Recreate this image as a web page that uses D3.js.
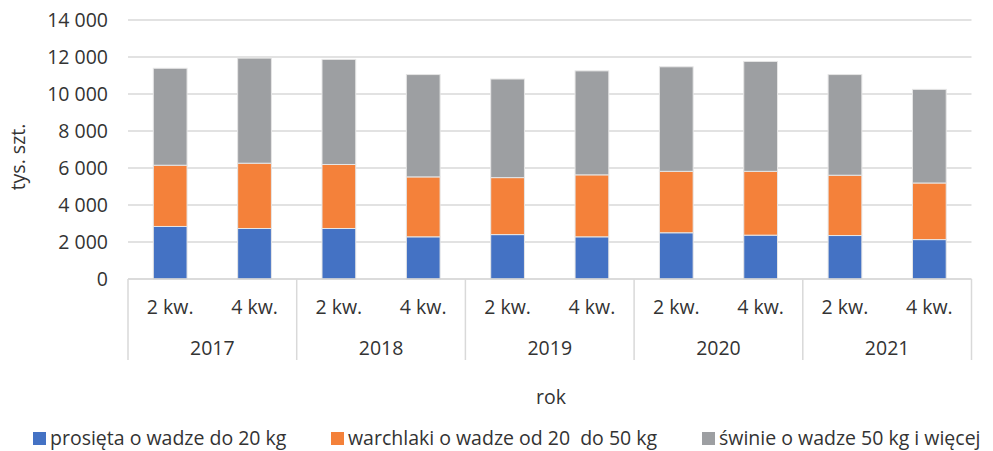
<!DOCTYPE html>
<html>
<head>
<meta charset="utf-8">
<script src="https://cdn.jsdelivr.net/npm/d3@7"></script>
<style>
  body { margin: 0; background: #fff; }
  text { font-family: "Open Sans", sans-serif; fill: #333; }
</style>
</head>
<body>
<svg id="chart" width="993" height="451"></svg>
<script>
// data (tys. szt.)
const years = ['2017', '2018', '2019', '2020', '2021'];
const quarters = ['2 kw.', '4 kw.'];
const prosieta = [2840, 2730, 2730, 2280, 2400, 2280, 2500, 2370, 2350, 2130];
const warchlaki = [3310, 3530, 3460, 3240, 3080, 3350, 3320, 3450, 3260, 3060];
const swinie = [5240, 5680, 5680, 5530, 5330, 5620, 5650, 5940, 5440, 5060];
const seriesNames = ['prosięta o wadze do 20 kg', 'warchlaki o wadze od 20  do 50 kg', 'świnie o wadze 50 kg i więcej'];
const colors = ['#4472c4', '#f4813a', '#9d9fa2'];
const yTicks = [0, 2000, 4000, 6000, 8000, 10000, 12000, 14000];

const rows = [];
years.forEach(function (yr, i) {
    quarters.forEach(function (q, j) {
        const k = i * 2 + j;
        rows.push({ key: yr + '-' + q, year: yr, q: q, s0: prosieta[k], s1: warchlaki[k], s2: swinie[k] });
    });
});

const svg = d3.select('#chart');
const plotLeft = 128, plotRight = 971.5, plotTop = 20, plotBottom = 279;
const fs = '19.5px';

const x = d3.scaleBand()
    .domain(rows.map(d => d.key))
    .range([plotLeft, plotRight])
    .paddingInner(0.6)
    .paddingOuter(0.3);

const y = d3.scaleLinear().domain([0, 14000]).range([plotBottom, plotTop]);

const fmt = function (v) {
    return d3.format(',')(v).replace(/,/g, ' ');
};

// gridlines
svg.append('g')
    .selectAll('line')
    .data(yTicks.slice(1))
    .join('line')
    .attr('x1', plotLeft).attr('x2', plotRight)
    .attr('y1', d => y(d)).attr('y2', d => y(d))
    .attr('stroke', '#d9d9d9')
    .attr('stroke-width', 1.5);

// y tick labels
svg.append('g')
    .selectAll('text')
    .data(yTicks)
    .join('text')
    .attr('x', 108)
    .attr('y', d => y(d))
    .attr('dy', '0.35em')
    .attr('text-anchor', 'end')
    .style('font-size', fs)
    .text(fmt);

// stacked bars
const stack = d3.stack().keys(['s0', 's1', 's2']);
const layers = stack(rows);
svg.append('g')
    .selectAll('g')
    .data(layers)
    .join('g')
    .attr('fill', (d, i) => colors[i])
    .selectAll('rect')
    .data(d => d)
    .join('rect')
    .attr('x', d => x(d.data.key))
    .attr('width', x.bandwidth())
    .attr('y', d => y(d[1]))
    .attr('height', d => y(d[0]) - y(d[1]))
    .attr('stroke', '#e6e6e6')
    .attr('stroke-width', 1);

// category axis: baseline and group separators
svg.append('line')
    .attr('x1', plotLeft).attr('x2', plotRight)
    .attr('y1', plotBottom).attr('y2', plotBottom)
    .attr('stroke', '#cfcfcf')
    .attr('stroke-width', 1.5);

const groupEdges = years.map(yr => x(yr + '-' + quarters[0]) - x.step() * x.paddingOuter());
groupEdges.push(plotRight);
svg.append('g')
    .selectAll('line')
    .data(groupEdges)
    .join('line')
    .attr('x1', d => d).attr('x2', d => d)
    .attr('y1', plotBottom).attr('y2', 360)
    .attr('stroke', '#d9d9d9')
    .attr('stroke-width', 1.5);

svg.append('g')
    .selectAll('text')
    .data(rows)
    .join('text')
    .attr('x', d => x(d.key) + x.bandwidth() / 2)
    .attr('y', 314)
    .attr('text-anchor', 'middle')
    .style('font-size', fs)
    .text(d => d.q);

svg.append('g')
    .selectAll('text')
    .data(years)
    .join('text')
    .attr('x', yr => (x(yr + '-' + quarters[0]) + x(yr + '-' + quarters[1]) + x.bandwidth()) / 2)
    .attr('y', 355)
    .attr('text-anchor', 'middle')
    .style('font-size', fs)
    .text(yr => yr);

// axis titles
svg.append('text')
    .attr('x', 551).attr('y', 404)
    .attr('text-anchor', 'middle')
    .style('font-size', fs)
    .text('rok');

svg.append('text')
    .attr('transform', 'translate(25,157) rotate(-90)')
    .attr('text-anchor', 'middle')
    .style('font-size', fs)
    .text('tys. szt.');

// legend
const legendX = [33, 331, 702];
const lg = svg.append('g')
    .selectAll('g')
    .data(seriesNames)
    .join('g')
    .attr('transform', (d, i) => 'translate(' + legendX[i] + ',432)');
lg.append('rect')
    .attr('width', 13).attr('height', 13)
    .attr('fill', (d, i) => colors[i]);
lg.append('text')
    .attr('x', 17).attr('y', 13)
    .style('font-size', fs)
    .style('white-space', 'pre')
    .text(d => d);
</script>
</body>
</html>
